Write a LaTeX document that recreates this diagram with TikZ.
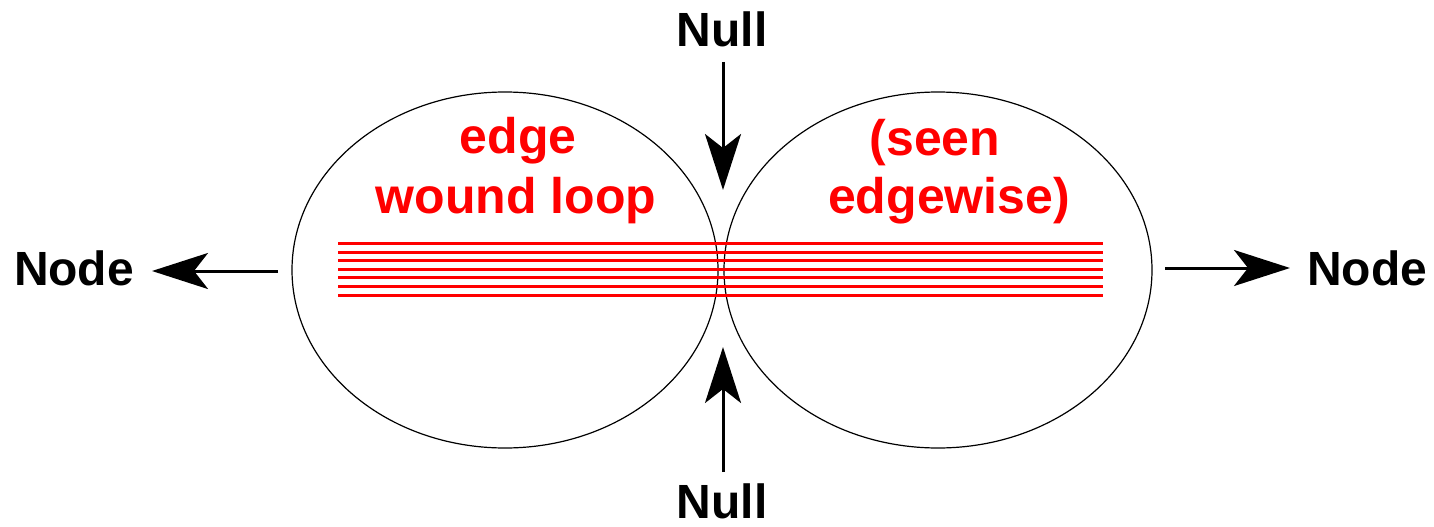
\documentclass[tikz,border=0pt]{standalone}
\usepackage{fontspec}
\setmainfont{Liberation Sans}
\usetikzlibrary{shapes.geometric,arrows.meta}
\begin{document}
\begin{tikzpicture}[x=1pt,y=-1pt,
  lbl/.style={font=\fontsize{48}{56}\selectfont\bfseries, inner sep=0pt, anchor=base},
  redlbl/.style={lbl, font=\fontsize{50}{58}\selectfont\bfseries, text=red},
  loopshape/.style={ellipse, draw, line width=1.2pt, inner sep=0pt},
  arr/.style={line width=3pt, -{Stealth[length=56pt,width=36pt,inset=14pt]}},
  wire/.style={red, line width=3pt}]
\useasboundingbox (0,0) rectangle (1434,527);
% loops
\node[loopshape, minimum width=426pt, minimum height=356pt] (L) at (505,270) {};
\node[loopshape, minimum width=428pt, minimum height=356pt] (R) at (938,270) {};
% edge-wound conductors
\foreach \i in {0,...,6}{
  \draw[wire] (338,243.5+\i*8.6) -- (1103,243.5+\i*8.6);
}
% labels
\node[lbl] (nt) at (722,47) {Null};
\node[lbl] (nb) at (722,518) {Null};
\node[lbl] (nl) at (74,285) {Node};
\node[lbl] (nr) at (1367,285) {Node};
\node[redlbl] (t1) at (518,153) {edge};
\node[redlbl] (t2) at (516,213) {wound loop};
\node[redlbl] (t3) at (935,155) {(seen};
\node[redlbl] (t4) at (949,213) {edgewise)};
% arrow ends
\coordinate (at1) at (723,62);  \coordinate (ah1) at (723,190);
\coordinate (at2) at (723,472); \coordinate (ah2) at (723,347);
\coordinate (at3) at (278,271); \coordinate (ah3) at (152,271);
\coordinate (at4) at (1165,268); \coordinate (ah4) at (1290,268);
\draw[arr] (at1) -- (ah1);
\draw[arr] (at2) -- (ah2);
\draw[arr] (at3) -- (ah3);
\draw[arr] (at4) -- (ah4);
\end{tikzpicture}
\end{document}
